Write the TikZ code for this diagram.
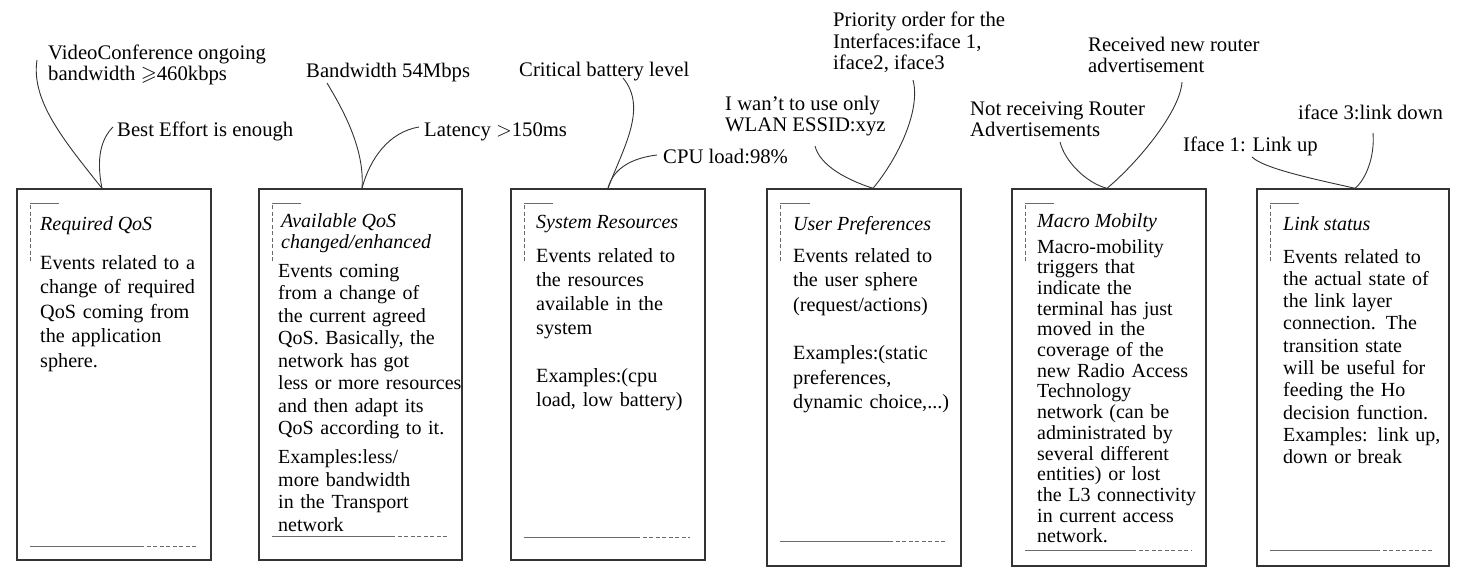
\documentclass[tikz,border=0pt]{standalone}
\usepackage{amssymb}
\usepackage{fontspec}
\setmainfont{Liberation Serif}
\definecolor{boxline}{HTML}{333333}
\definecolor{markline}{HTML}{6A6A6A}

\begin{document}
\begin{tikzpicture}[x=1pt, y=-1pt,
    evbox/.style={draw=boxline, line width=1.4pt, minimum width=194pt, minimum height=371pt, inner sep=0pt},
    evtitle/.style={anchor=base west, inner sep=0pt, font=\fontsize{20}{21}\selectfont\itshape, align=left},
    evtext/.style={anchor=base west, inner sep=0pt, text width=190pt, align=left},
    cue/.style={anchor=base west, inner sep=0pt, font=\fontsize{20.7}{21.5}\selectfont, align=left},
    callout/.style={draw=black!80, line width=0.9pt},
    markdash/.style={draw=markline, line width=1.2pt, dash pattern=on 4pt off 2.5pt},
    marksolid/.style={draw=markline, line width=1.2pt}]
    \useasboundingbox (0,0) rectangle (1462,575);

    % Box: Required QoS
    \node[evbox] (rq) at (114,374.5) {};
    \node[evtitle] (rqtitle) at (40,230) {Required QoS};
    \node[evtext, font=\fontsize{20.2}{24.5}\selectfont] (rqtext) at (40,269)
        {Events related to a\\ change of required\\ QoS coming from\\ the application\\ sphere.};
    \draw[markdash] ([shift={(14,73)}]rq.north west) -- ([shift={(14,15)}]rq.north west);
    \draw[marksolid] ([shift={(14,15)}]rq.north west) -- ([shift={(43,15)}]rq.north west);
    \draw[marksolid] ([shift={(14,-14)}]rq.south west) -- ([shift={(124,-14)}]rq.south west);
    \draw[markdash] ([shift={(124,-14)}]rq.south west) -- ([shift={(180,-14)}]rq.south west);

    % Box: Available QoS
    \node[evbox, minimum width=203pt] (aq) at (360.5,374.5) {};
    \node[evtitle] (aqtitle) at (281,248) {Available QoS\\ changed/enhanced};
    \node[evtext, font=\fontsize{20}{22.5}\selectfont] (aqtext) at (278,277)
        {Events coming\\ from a change of\\ the current agreed\\ QoS. Basically, the\\ network has got\\ less or more resources\\ and then adapt its\\ QoS according to it.\\[6.5pt]
         Examples:less/\\ more bandwidth\\ in the Transport\\ network};
    \draw[markdash] ([shift={(14,73)}]aq.north west) -- ([shift={(14,15)}]aq.north west);
    \draw[marksolid] ([shift={(14,15)}]aq.north west) -- ([shift={(43,15)}]aq.north west);
    \draw[marksolid] ([shift={(14,-24)}]aq.south west) -- ([shift={(133,-24)}]aq.south west);
    \draw[markdash] ([shift={(133,-24)}]aq.south west) -- ([shift={(189,-24)}]aq.south west);

    % Box: System Resources
    \node[evbox] (sr) at (608,374.5) {};
    \node[evtitle] (srtitle) at (536,228) {System Resources};
    \node[evtext, font=\fontsize{20.2}{24}\selectfont] (srtext) at (536,262)
        {Events related to\\ the resources\\ available in the\\ system\\[24pt]
         Examples:(cpu\\ load, low battery)};
    \draw[markdash] ([shift={(14,73)}]sr.north west) -- ([shift={(14,15)}]sr.north west);
    \draw[marksolid] ([shift={(14,15)}]sr.north west) -- ([shift={(43,15)}]sr.north west);
    \draw[marksolid] ([shift={(14,-23)}]sr.south west) -- ([shift={(126,-23)}]sr.south west);
    \draw[markdash] ([shift={(126,-23)}]sr.south west) -- ([shift={(180,-23)}]sr.south west);

    % Box: User Preferences
    \node[evbox, minimum height=377pt] (up) at (864,377.5) {};
    \node[evtitle] (uptitle) at (793,230) {User Preferences};
    \node[evtext, font=\fontsize{20.2}{24.5}\selectfont] (uptext) at (793,262)
        {Events related to\\ the user sphere\\ (request/actions)\\[24pt]
         Examples:(static\\ preferences,\\ dynamic choice,...)};
    \draw[markdash] ([shift={(14,73)}]up.north west) -- ([shift={(14,15)}]up.north west);
    \draw[marksolid] ([shift={(14,15)}]up.north west) -- ([shift={(44,15)}]up.north west);
    \draw[marksolid] ([shift={(14,-25)}]up.south west) -- ([shift={(123,-25)}]up.south west);
    \draw[markdash] ([shift={(123,-25)}]up.south west) -- ([shift={(180,-25)}]up.south west);

    % Box: Macro Mobility
    \node[evbox, minimum height=377pt] (mm) at (1109,377.5) {};
    \node[evtitle] (mmtitle) at (1037,227) {Macro Mobilty};
    \node[evtext, font=\fontsize{20}{20.7}\selectfont] (mmtext) at (1037,253)
        {Macro-mobility\\ triggers that\\ indicate the\\ terminal has just\\ moved in the\\ coverage of the\\ new Radio Access\\ Technology\\ network (can be\\ administrated by\\ several different\\ entities) or lost\\ the L3 connectivity\\ in current access\\ network.};
    \draw[markdash] ([shift={(14,73)}]mm.north west) -- ([shift={(14,15)}]mm.north west);
    \draw[marksolid] ([shift={(14,15)}]mm.north west) -- ([shift={(43,15)}]mm.north west);
    \draw[marksolid] ([shift={(14,-16)}]mm.south west) -- ([shift={(121,-16)}]mm.south west);
    \draw[markdash] ([shift={(121,-16)}]mm.south west) -- ([shift={(180,-16)}]mm.south west);

    % Box: Link status
    \node[evbox, minimum width=192pt, minimum height=377pt] (ls) at (1353,377.5) {};
    \node[evtitle] (lstitle) at (1283,230) {Link status};
    \node[evtext, font=\fontsize{20}{22.3}\selectfont] (lstext) at (1283,263)
        {Events related to\\ the actual state of\\ the link layer\\ connection. The\\ transition state\\ will be useful for\\ feeding the Ho\\ decision function.\\ Examples: link up,\\ down or break};
    \draw[markdash] ([shift={(14,73)}]ls.north west) -- ([shift={(14,15)}]ls.north west);
    \draw[marksolid] ([shift={(14,15)}]ls.north west) -- ([shift={(43,15)}]ls.north west);
    \draw[marksolid] ([shift={(14,-16)}]ls.south west) -- ([shift={(120,-16)}]ls.south west);
    \draw[markdash] ([shift={(120,-16)}]ls.south west) -- ([shift={(178,-16)}]ls.south west);

    % Trigger examples above the boxes
    \node[cue] (vc) at (48,81) {VideoConference ongoing\\ bandwidth $\geqslant$460kbps};
    \node[cue] (be) at (117,137) {Best Effort is enough};
    \node[cue] (bw) at (306,78) {Bandwidth 54Mbps};
    \node[cue] (lt) at (424,137) {Latency $>$150ms};
    \node[cue] (cb) at (519,77) {Critical battery level};
    \node[cue] (cpu) at (663,164) {CPU load:98\%};
    \node[cue] (wl) at (725,132) {I wan’t to use only\\ WLAN ESSID:xyz};
    \node[cue] (po) at (833,70) {Priority order for the\\ Interfaces:iface 1,\\ iface2, iface3};
    \node[cue] (ra) at (1088,73) {Received new router\\ advertisement};
    \node[cue] (nr) at (970,137) {Not receiving Router\\ Advertisements};
    \node[cue] (iu) at (1183,152) {Iface 1: Link up};
    \node[cue] (id) at (1298,120) {iface 3:link down};

    % Callout curves
    \draw[callout] ([xshift=-12pt]rq.north) .. controls +(-40,-50) and +(-6,40) .. ([shift={(-11,-21)}]vc.base west);
    \draw[callout] ([xshift=-12pt]rq.north) .. controls +(-6,-30) and +(-12,12) .. ([shift={(-4,-10)}]be.base west);
    \draw[callout] ([xshift=1.5pt]aq.north) .. controls +(3,-40) and +(15,25) .. ([shift={(21,5)}]bw.base west);
    \draw[callout] ([xshift=1.5pt]aq.north) .. controls +(8,-30) and +(-30,5) .. ([shift={(-5,-10)}]lt.base west);
    \draw[callout] (sr.north) .. controls +(15,-40) and +(25,30) .. ([shift={(104,1)}]cb.base west);
    \draw[callout] (sr.north) .. controls +(5,-20) and +(-25,3) .. ([shift={(-6,-9)}]cpu.base west);
    \draw[callout] ([xshift=9pt]up.north) .. controls +(-25,-8) and +(5,20) .. ([shift={(90,14)}]wl.base west);
    \draw[callout] ([xshift=9pt]up.north) .. controls +(25,-30) and +(8,30) .. ([shift={(80,10)}]po.base west);
    \draw[callout] ([xshift=-2pt]mm.north) .. controls +(-20,-5) and +(5,20) .. ([shift={(90,5)}]nr.base west);
    \draw[callout] ([xshift=-2pt]mm.north) .. controls +(30,-25) and +(-2,30) .. ([shift={(94,9)}]ra.base west);
    \draw[callout] ([xshift=2pt]ls.north) .. controls +(-35,-8) and +(12,12) .. ([shift={(69,5)}]iu.base west);
    \draw[callout] ([xshift=2pt]ls.north) .. controls +(10,-8) and +(2,25) .. ([shift={(75,13)}]id.base west);
\end{tikzpicture}
\end{document}
